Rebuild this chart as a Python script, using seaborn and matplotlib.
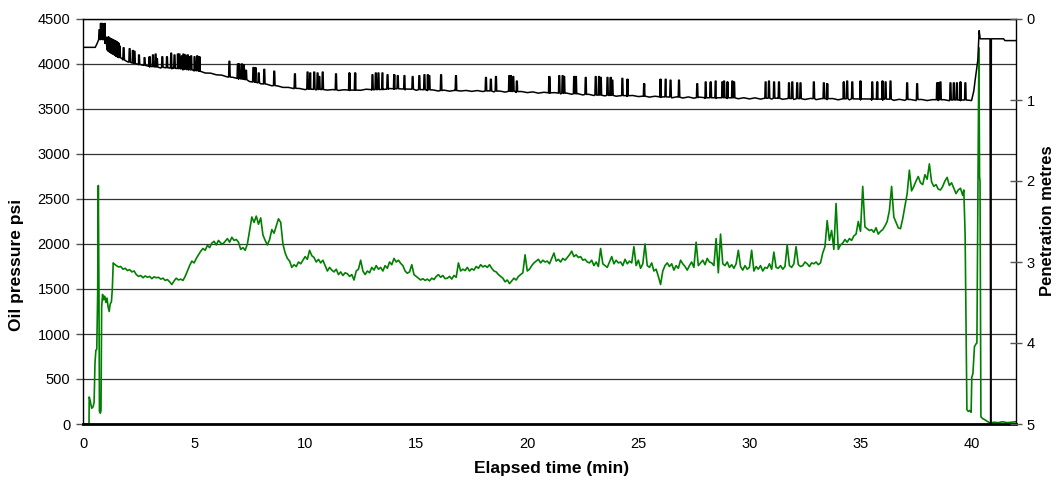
import numpy as np
import pandas as pd
import matplotlib.pyplot as plt
import seaborn as sns

# green trace, start of run (min, psi)
green_start_t = [0, 0.27, 0.28, 0.33, 0.39, 0.45, 0.50, 0.54, 0.58, 0.62, 0.66, 0.69, 0.72,
                 0.74, 0.78, 0.81, 0.84, 0.88, 0.93, 0.98, 1.03, 1.08, 1.13, 1.18, 1.22,
                 1.28, 1.32, 1.36]
green_start_p = [0, 0, 300, 250, 175, 190, 240, 680, 820, 830, 1450, 2650, 1400,
                 140, 120, 150, 1300, 1440, 1380, 1420, 1350, 1400, 1300, 1250, 1330,
                 1360, 1500, 1790]

# green trace, every 0.1 min from 1.4 to 39.6
green_mid_p = [
    1780, 1760, 1745, 1750, 1720, 1730, 1705, 1715, 1690, 1700,
    1660, 1640, 1650, 1625, 1645, 1630, 1640, 1615, 1635, 1625,
    1630, 1610, 1620, 1595, 1605, 1580, 1550, 1590, 1620, 1600,
    1610, 1595, 1640, 1700, 1760, 1810, 1790, 1840, 1880, 1920,
    1950, 1930, 1985, 1960, 2010, 2030, 1990, 2040, 2010, 2000,
    2030, 2060, 2020, 2075, 2040, 2050, 2020, 1940, 1960, 1930,
    2000, 2150, 2300, 2240, 2310, 2220, 2290, 2100, 2040, 1990,
    2050, 2160, 2120, 2200, 2280, 2240, 2000, 1900, 1840, 1810,
    1740, 1770, 1750, 1800, 1780, 1820, 1860, 1830, 1930, 1870,
    1850, 1800, 1830, 1790, 1820, 1760, 1700, 1740, 1710, 1690,
    1720, 1660, 1690, 1650, 1680, 1670, 1640, 1660, 1600, 1700,
    1720, 1820, 1700, 1660, 1700, 1680, 1740, 1710, 1760, 1720,
    1740, 1700, 1760, 1730, 1800, 1770, 1840, 1800, 1820, 1785,
    1760, 1700, 1675, 1690, 1770, 1660, 1640, 1620, 1600, 1615,
    1595, 1610, 1590, 1620, 1605, 1640, 1660, 1630, 1650, 1615,
    1620, 1640, 1610, 1650, 1630, 1790, 1700, 1720, 1705, 1740,
    1700, 1725, 1710, 1750, 1730, 1770, 1745, 1760, 1740, 1770,
    1730, 1700, 1690, 1660, 1640, 1620, 1580, 1600, 1560, 1590,
    1620, 1600, 1640, 1660, 1680, 1880, 1700, 1720, 1760, 1790,
    1810, 1830, 1790, 1820, 1800, 1810, 1780, 1840, 1900, 1810,
    1830, 1800, 1840, 1820, 1850, 1880, 1920, 1860, 1880, 1850,
    1860, 1820, 1830, 1800, 1790, 1820, 1760, 1800, 1750, 1950,
    1780, 1760, 1740, 1800, 1860, 1780, 1820, 1790, 1800, 1760,
    1830, 1780, 1810, 1790, 1970, 1760, 1820, 1730, 1780, 2000,
    1760, 1740, 1790, 1700, 1720, 1640, 1550, 1700, 1760, 1790,
    1750, 1780, 1710, 1760, 1730, 1820, 1780, 1750, 1710, 1760,
    1800, 1740, 2020, 1760, 1790, 1820, 1770, 1840, 1800, 1790,
    1760, 2060, 1680, 2110, 1780, 1760, 1800, 1740, 1770, 1730,
    1780, 1930, 1750, 1710, 1760, 1720, 1740, 1930, 1700, 1750,
    1720, 1760, 1700, 1740, 1730, 1780, 1720, 1910, 1740, 1730,
    1760, 1720, 1750, 1990, 1760, 1740, 1780, 1970, 1770, 1750,
    1760, 1800, 1780, 1750, 1790, 1780, 1800, 1770, 1790, 1900,
    1970, 2260, 2040, 2150, 1940, 2450, 1940, 1990, 2010, 2050,
    2020, 2060, 2040, 2090, 2110, 2250, 2140, 2640, 2190, 2170,
    2150, 2160, 2130, 2180, 2110, 2140, 2160, 2200, 2250, 2370,
    2640, 2300, 2240, 2180, 2170, 2280, 2420, 2560, 2820, 2590,
    2640, 2700, 2750, 2680, 2660, 2770, 2720, 2890, 2690, 2640,
    2660, 2610, 2600, 2640, 2700, 2740, 2650, 2680, 2620, 2560,
    2600, 2620, 2540]

# green trace, end of run
green_end_t = [39.65, 39.71, 39.79, 39.85, 39.92, 39.98, 40.01, 40.06, 40.13, 40.2, 40.24,
               40.29, 40.33, 40.36, 40.38, 40.42, 40.5, 40.61, 40.7, 40.84, 41.0, 41.2,
               41.4, 41.6, 41.8, 42.0]
green_end_p = [2600, 2100, 160, 140, 150, 130, 520, 560, 860, 890, 900,
               2750, 4180, 2750, 2700, 80, 60, 45, 30, 10, 20, 15,
               25, 15, 20, 25]

# black trace baseline: start, every 0.25 min from 1.25 to 40.0, end
black_start_t = [0, 0.55, 0.62, 0.7, 1.0, 1.08]
black_start_p = [4185, 4185, 4220, 4270, 4270, 4165]
black_mid_p = [
    4128, 4085, 4062, 4025, 4016, 3992, 3990, 3966,
    3970, 3955, 3960, 3946, 3950, 3934, 3937, 3922,
    3920, 3900, 3898, 3880, 3876, 3856, 3852, 3832,
    3830, 3805, 3802, 3780, 3777, 3758, 3757, 3740,
    3740, 3726, 3728, 3715, 3722, 3712, 3718, 3710,
    3716, 3706, 3714, 3705, 3712, 3708, 3720, 3710,
    3722, 3715, 3728, 3718, 3724, 3712, 3720, 3708,
    3716, 3704, 3712, 3700, 3710, 3698, 3708, 3700,
    3706, 3696, 3705, 3694, 3702, 3690, 3700, 3688,
    3696, 3684, 3694, 3682, 3690, 3676, 3686, 3674,
    3682, 3668, 3678, 3664, 3672, 3656, 3664, 3650,
    3660, 3646, 3656, 3642, 3654, 3640, 3650, 3638,
    3646, 3632, 3642, 3628, 3638, 3624, 3636, 3622,
    3634, 3620, 3632, 3618, 3630, 3617, 3628, 3616,
    3626, 3614, 3625, 3612, 3624, 3610, 3622, 3610,
    3620, 3608, 3620, 3606, 3618, 3606, 3618, 3604,
    3616, 3604, 3616, 3602, 3614, 3602, 3612, 3600,
    3612, 3598, 3610, 3598, 3610, 3596, 3608, 3596,
    3606, 3594, 3606, 3594, 3604, 3594, 3604, 3592,
    3602, 3592, 3600, 3594]
black_end_t = [40.1, 40.16, 40.28, 40.34, 40.39, 40.83, 40.86, 40.89, 41.44, 41.5, 42.0]
black_end_p = [3700, 3820, 4040, 4370, 4280, 4280, 0, 4280, 4280, 4260, 4260]

# black trace spikes: time, baseline under it, top
spike_t = [0.74, 0.8, 0.86, 0.92, 0.98, 1.02,
           1.14, 1.18, 1.22, 1.26, 1.30, 1.34, 1.38, 1.42, 1.46, 1.50, 1.55, 1.60, 1.65,
           1.83, 2.10, 2.25, 2.32, 2.52, 2.77, 3.0, 3.15, 3.27, 3.33, 3.57, 3.78, 3.97,
           4.12, 4.27, 4.34, 4.45, 4.52, 4.61, 4.72, 4.79, 4.87, 5.02, 5.14, 5.24,
           6.59, 6.97, 7.04, 7.16, 7.24, 7.34, 7.67, 7.76, 7.91, 8.16, 8.61, 9.54,
           10.11, 10.23, 10.41, 10.56, 10.64, 10.79, 11.39, 11.99, 12.25, 13.03, 13.18,
           13.3, 13.48, 13.71, 14.01, 14.17, 14.47, 14.84, 15.14, 15.37, 15.52, 15.59,
           16.12, 16.79, 18.14, 18.36, 18.59, 19.19, 19.26, 19.37, 19.53, 20.99, 21.44,
           21.59, 21.66, 22.11, 22.19, 22.63, 23.08, 23.23, 23.31, 23.61, 23.76, 23.83,
           24.28, 24.51, 25.26, 26.0, 26.23, 26.45, 26.83, 27.65, 28.03, 28.26, 28.48,
           28.78, 28.86, 29.01, 29.23, 29.31, 30.73, 30.88, 31.11, 31.33, 31.78, 31.93,
           32.15, 32.3, 32.9, 33.35, 33.5, 34.25, 34.4, 34.63, 35.0, 35.53, 35.75,
           35.99, 36.13, 36.35, 37.1, 37.55, 38.45, 38.52, 38.6, 39.05, 39.2, 39.34,
           39.5, 39.72]
spike_base = [4270, 4275, 4275, 4270, 4270, 4230,
              4150, 4140, 4135, 4130, 4120, 4115, 4110, 4105, 4100, 4090, 4085, 4075, 4070,
              4045, 4020, 4010, 4005, 3995, 3985, 3975, 3970, 3968, 3966, 3962, 3958, 3955,
              3952, 3950, 3948, 3945, 3943, 3940, 3938, 3936, 3934, 3930, 3925, 3920,
              3855, 3840, 3838, 3833, 3830, 3825, 3800, 3797, 3790, 3778, 3760, 3730,
              3720, 3720, 3718, 3717, 3717, 3716, 3712, 3710, 3710, 3715, 3715,
              3716, 3718, 3720, 3725, 3725, 3722, 3720, 3715, 3714, 3713, 3713,
              3705, 3705, 3700, 3700, 3698, 3696, 3696, 3695, 3694, 3680, 3676,
              3675, 3674, 3669, 3668, 3662, 3655, 3654, 3653, 3652, 3651, 3651,
              3649, 3648, 3643, 3635, 3634, 3633, 3631, 3627, 3625, 3625, 3625,
              3625, 3625, 3625, 3624, 3624, 3620, 3620, 3619, 3618, 3617, 3616,
              3615, 3615, 3615, 3615, 3615, 3614, 3614, 3613, 3612, 3611, 3610,
              3610, 3610, 3609, 3606, 3605, 3603, 3603, 3602, 3600, 3600, 3600,
              3600, 3600]
spike_top = [4380, 4450, 4450, 4440, 4450, 4300,
             4300, 4290, 4285, 4280, 4275, 4270, 4265, 4260, 4255, 4250, 4240, 4230, 4200,
             4180, 4170, 4150, 4140, 4100, 4070, 4080, 4100, 4110, 4060, 4080, 4080, 4120,
             4100, 4110, 4110, 4090, 4110, 4100, 4100, 4080, 4090, 4080, 4090, 4080,
             4030, 4000, 4000, 4000, 3990, 3930, 3960, 3960, 3900, 3940, 3920, 3890,
             3910, 3900, 3910, 3900, 3860, 3910, 3890, 3900, 3900, 3880, 3900,
             3900, 3900, 3880, 3880, 3870, 3870, 3860, 3870, 3880, 3880, 3870,
             3880, 3870, 3850, 3830, 3860, 3870, 3870, 3860, 3810, 3860, 3870,
             3870, 3860, 3860, 3860, 3850, 3860, 3860, 3850, 3850, 3850, 3820,
             3840, 3830, 3780, 3830, 3830, 3820, 3820, 3780, 3800, 3800, 3810,
             3800, 3810, 3800, 3810, 3800, 3800, 3810, 3800, 3800, 3790, 3800,
             3790, 3790, 3800, 3790, 3780, 3800, 3810, 3800, 3810, 3800, 3800,
             3810, 3800, 3810, 3790, 3780, 3790, 3790, 3800, 3790, 3790, 3790,
             3800, 3790]

x_ticks = [0, 5, 10, 15, 20, 25, 30, 35, 40]
left_ticks = [0, 500, 1000, 1500, 2000, 2500, 3000, 3500, 4000, 4500]
right_ticks = [0, 1, 2, 3, 4, 5]

green_mid_t = 1.4 + 0.1 * np.arange(len(green_mid_p))
df_green = pd.DataFrame({
    't': np.concatenate([green_start_t, green_mid_t, green_end_t]),
    'p': np.concatenate([green_start_p, green_mid_p, green_end_p]),
})

black_mid_t = 1.25 + 0.25 * np.arange(len(black_mid_p))
base_t = list(black_start_t) + list(black_mid_t) + list(black_end_t)
base_p = list(black_start_p) + list(black_mid_p) + list(black_end_p)

# spikes drawn as narrow pulses sitting on the baseline
w = 0.035
sp_t, sp_p = [], []
for t, b, top in zip(spike_t, spike_base, spike_top):
    sp_t += [t - w, t - w * 0.5, t + w * 0.5, t + w]
    sp_p += [b, top, top, b]
df_black = pd.DataFrame({'t': base_t + sp_t, 'p': base_p + sp_p})
df_black = df_black.sort_values('t', kind='stable')

sns.set_style('white')
plt.rcParams['font.family'] = ['Liberation Sans', 'DejaVu Sans']

fig = plt.figure(figsize=(10.56, 4.82), dpi=100)
ax = fig.add_axes([83 / 1056, 1 - 424 / 482, 933 / 1056, 405 / 482])

sns.lineplot(data=df_green, x='t', y='p', ax=ax, color='#008000', lw=1.2,
             estimator=None, sort=False)
sns.lineplot(data=df_black, x='t', y='p', ax=ax, color='black', lw=1.1,
             estimator=None, sort=False)

ax.set_xlim(0, 42)
ax.set_ylim(0, 4500)
ax.set_xticks(x_ticks)
ax.set_yticks(left_ticks)
ax.set_xlabel('')
ax.set_ylabel('')
ax.grid(axis='y', color='#333333', lw=0.9)
ax.tick_params(axis='both', direction='out', length=5, width=1, labelsize=10.5,
               color='#555555', labelcolor='black', pad=4)
for side in ['top', 'right', 'left']:
    ax.spines[side].set_color('black')
    ax.spines[side].set_linewidth(1)
ax.spines['bottom'].set_color('black')
ax.spines['bottom'].set_linewidth(2)

ax2 = ax.twinx()
ax2.set_ylim(5, 0)
ax2.set_yticks(right_ticks)
ax2.tick_params(axis='y', direction='inout', length=9, width=1, labelsize=10.5,
                color='#555555', labelcolor='black', pad=3)
for side in ax2.spines:
    ax2.spines[side].set_visible(False)

fig.text(17 / 1056, 1 - 265 / 482, 'Oil pressure psi', rotation=90, ha='center',
         va='center', fontsize=12.5, fontweight='bold', color='black')
fig.text(1047 / 1056, 1 - 221 / 482, 'Penetration metres', rotation=90, ha='center',
         va='center', fontsize=12, fontweight='bold', color='black')
fig.text(552 / 1056, 1 - 468 / 482, 'Elapsed time (min)', ha='center', va='center',
         fontsize=12.5, fontweight='bold', color='black')

fig.savefig('out.png', dpi=100)
